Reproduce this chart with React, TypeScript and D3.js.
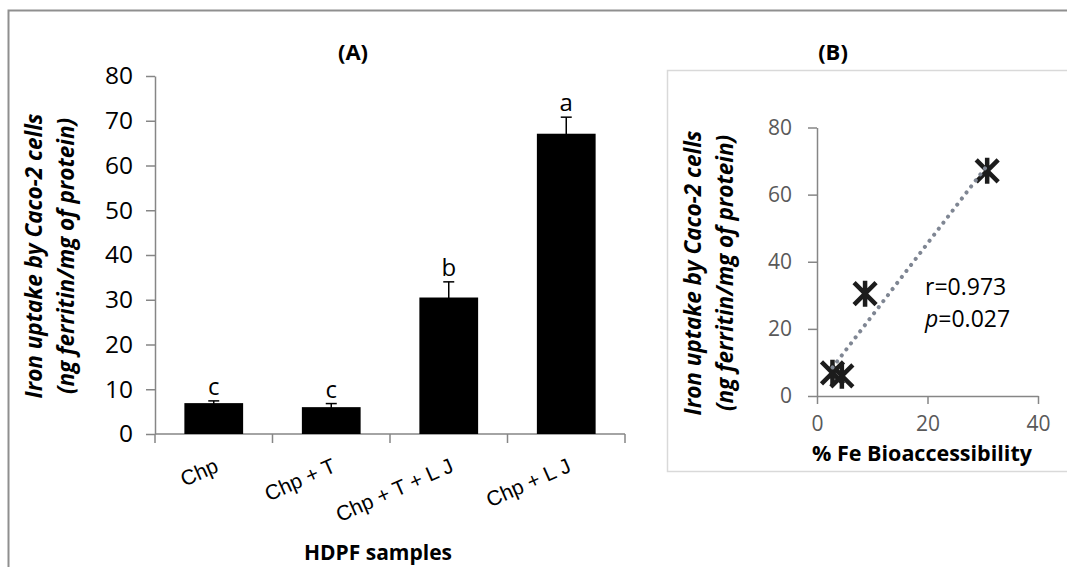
import React, { useEffect, useRef } from 'react';
import * as d3 from 'd3';

// panel A: ferritin per sample
const samples = ['Chp', 'Chp + T', 'Chp + T + L J', 'Chp + L J'];
const uptake = [6.9, 6.0, 30.5, 67.1];
const uptakeErr = [0.5, 0.8, 3.5, 3.7];
const groupLetters = ['c', 'c', 'b', 'a'];
const uptakeTicks = [0, 10, 20, 30, 40, 50, 60, 70, 80];

// panel B: bioaccessibility vs uptake
const bioaccessibility = [2.8, 4.5, 8.7, 30.8];
const scatterXTicks = [0, 20, 40];
const scatterYTicks = [0, 20, 40, 60, 80];
const rValue = '0.973';
const pValue = '0.027';

const FONT = "'Open Sans', sans-serif";
const AXIS_GREY = '#868686';

function App() {
  const svgRef = useRef<SVGSVGElement>(null);

  useEffect(() => {
    const svg = d3.select(svgRef.current);
    svg.selectAll('*').remove();

    // outer frame
    svg.append('rect')
      .attr('x', 8.5).attr('y', 10.5)
      .attr('width', 1100).attr('height', 600)
      .attr('fill', 'none')
      .attr('stroke', '#8f8f8f')
      .attr('stroke-width', 2);

    // ---------- panel A ----------
    const x = d3.scaleBand().domain(samples).range([155, 625]).paddingInner(0.5).paddingOuter(0.25);
    const y = d3.scaleLinear().domain([0, 80]).range([434, 76]);
    const a = svg.append('g');

    const yAxis = a.append('g')
      .attr('transform', 'translate(155,0)')
      .call(d3.axisLeft(y).tickValues(uptakeTicks).tickSize(9).tickSizeOuter(0).tickPadding(13));
    yAxis.select('.domain').attr('stroke', AXIS_GREY).attr('stroke-width', 1.5);
    yAxis.selectAll('line').attr('stroke', AXIS_GREY).attr('stroke-width', 1.5);
    yAxis.selectAll('text').attr('font-family', FONT).attr('font-size', 24.5).attr('fill', '#000');

    // x axis: ticks between categories
    const y0 = y(0);
    a.append('line')
      .attr('x1', x.range()[0]).attr('x2', x.range()[1])
      .attr('y1', y0).attr('y2', y0)
      .attr('stroke', AXIS_GREY).attr('stroke-width', 1.5);
    const edges = samples.map((d) => (x(d) as number) - x.step() * 0.25).concat([x.range()[1]]);
    a.selectAll('.xtick').data(edges).enter().append('line')
      .attr('x1', (d) => d).attr('x2', (d) => d)
      .attr('y1', y0).attr('y2', y0 + 9)
      .attr('stroke', AXIS_GREY).attr('stroke-width', 1.5);

    const cx = (d: string) => (x(d) as number) + x.bandwidth() / 2;

    a.selectAll('.bar').data(samples).enter().append('rect')
      .attr('x', (d) => x(d) as number)
      .attr('y', (d, i) => y(uptake[i]))
      .attr('width', x.bandwidth())
      .attr('height', (d, i) => y0 - y(uptake[i]))
      .attr('fill', '#000');

    // error bars
    samples.forEach((d, i) => {
      const top = y(uptake[i] + uptakeErr[i]);
      const bot = y(uptake[i] - uptakeErr[i]);
      const g = a.append('g').attr('stroke', '#000').attr('stroke-width', 1.5);
      g.append('line').attr('x1', cx(d)).attr('x2', cx(d)).attr('y1', top).attr('y2', bot);
      g.append('line').attr('x1', cx(d) - 5.5).attr('x2', cx(d) + 5.5).attr('y1', top).attr('y2', top);
      g.append('line').attr('x1', cx(d) - 5.5).attr('x2', cx(d) + 5.5).attr('y1', bot).attr('y2', bot);
      a.append('text')
        .attr('x', cx(d)).attr('y', top - 6)
        .attr('text-anchor', 'middle')
        .attr('font-family', FONT).attr('font-size', 24)
        .text(groupLetters[i]);
    });

    // rotated category labels
    a.selectAll('.xlab').data(samples).enter().append('text')
      .attr('transform', (d) => `translate(${cx(d) + 6},${y0 + 37}) rotate(-24)`)
      .attr('text-anchor', 'end')
      .attr('font-family', "'Liberation Sans', Arial, sans-serif")
      .attr('font-size', 21)
      .text((d) => d);

    a.append('text')
      .attr('x', 378).attr('y', 560)
      .attr('text-anchor', 'middle')
      .attr('font-family', FONT).attr('font-weight', 'bold').attr('font-size', 21)
      .text('HDPF samples');

    a.append('text')
      .attr('x', 353).attr('y', 60)
      .attr('text-anchor', 'middle')
      .attr('font-family', FONT).attr('font-weight', 'bold').attr('font-size', 22)
      .text('(A)');

    const yTitle = (g, tx, ty) => {
      const t = g.append('g').attr('transform', `translate(${tx},${ty}) rotate(-90)`)
        .attr('font-family', FONT).attr('font-weight', 'bold').attr('font-style', 'italic')
        .attr('font-size', 22.5).attr('text-anchor', 'middle');
      t.append('text').attr('y', 0).text('Iron uptake by Caco-2 cells');
      t.append('text').attr('y', 32).text('(ng ferritin/mg of protein)');
    };
    yTitle(a, 42, 256);

    // ---------- panel B ----------
    const b = svg.append('g');
    b.append('rect')
      .attr('x', 667.5).attr('y', 70.5)
      .attr('width', 500).attr('height', 401)
      .attr('fill', 'none')
      .attr('stroke', '#d9d9d9').attr('stroke-width', 1.5);

    b.append('text')
      .attr('x', 833).attr('y', 60)
      .attr('text-anchor', 'middle')
      .attr('font-family', FONT).attr('font-weight', 'bold').attr('font-size', 22)
      .text('(B)');

    const xs = d3.scaleLinear().domain([0, 40]).range([817, 1038]);
    const ys = d3.scaleLinear().domain([0, 80]).range([396, 127.5]);

    const bx = b.append('g')
      .attr('transform', `translate(0,${ys(0)})`)
      .call(d3.axisBottom(xs).tickValues(scatterXTicks).tickSize(8).tickSizeOuter(0).tickPadding(12));
    const by = b.append('g')
      .attr('transform', `translate(${xs(0)},0)`)
      .call(d3.axisLeft(ys).tickValues(scatterYTicks).tickSize(9).tickSizeOuter(0).tickPadding(16));
    [bx, by].forEach((ax) => {
      ax.select('.domain').attr('stroke', AXIS_GREY).attr('stroke-width', 1.5);
      ax.selectAll('line').attr('stroke', AXIS_GREY).attr('stroke-width', 1.5);
      ax.selectAll('text').attr('font-family', FONT).attr('font-size', 21).attr('fill', '#595959');
    });

    b.append('text')
      .attr('x', 922).attr('y', 461)
      .attr('text-anchor', 'middle')
      .attr('font-family', FONT).attr('font-weight', 'bold').attr('font-size', 21.5)
      .text('% Fe Bioaccessibility');

    yTitle(b, 701, 273);

    // markers
    b.selectAll('.pt').data(bioaccessibility).enter().append('path')
      .attr('transform', (d, i) => `translate(${xs(d)},${ys(uptake[i])})`)
      .attr('d', 'M-11,-11L11,11M-11,11L11,-11M0,-13L0,13')
      .attr('fill', 'none')
      .attr('stroke', '#1c1c1c')
      .attr('stroke-width', 4.5);

    // linear trendline (least squares)
    const mx = d3.mean(bioaccessibility) as number;
    const my = d3.mean(uptake) as number;
    const sxy = d3.sum(bioaccessibility, (d, i) => (d - mx) * (uptake[i] - my));
    const sxx = d3.sum(bioaccessibility, (d) => (d - mx) ** 2);
    const slope = sxy / sxx;
    const icpt = my - slope * mx;
    const [xmin, xmax] = d3.extent(bioaccessibility) as [number, number];
    const trend = d3.line<number>().x((d) => xs(d)).y((d) => ys(icpt + slope * d));
    b.append('path')
      .attr('d', trend([xmin, xmax]))
      .attr('fill', 'none')
      .attr('stroke', '#7f8693')
      .attr('stroke-width', 4)
      .attr('stroke-linecap', 'round')
      .attr('stroke-dasharray', '0.1 7.5');

    b.append('text')
      .attr('x', 925).attr('y', 295)
      .attr('font-family', FONT).attr('font-size', 23)
      .text(`r=${rValue}`);
    const pt = b.append('text')
      .attr('x', 925).attr('y', 327)
      .attr('font-family', FONT).attr('font-size', 23);
    pt.append('tspan').attr('font-style', 'italic').text('p');
    pt.append('tspan').text(`=${pValue}`);
  }, []);

  return (
    <svg
      ref={svgRef}
      width={1067}
      height={567}
      style={{ position: 'absolute', left: 0, top: 0, background: '#fff' }}
    />
  );
}

export default App;
